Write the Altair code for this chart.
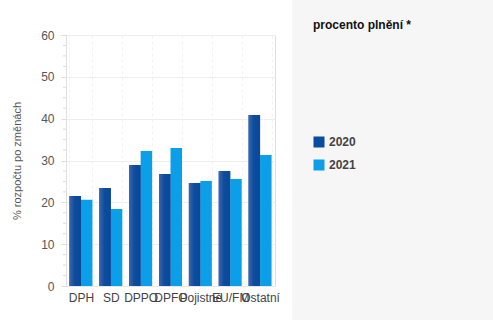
import altair as alt
import pandas as pd

FONT = "Liberation Sans"

categories = ["DPH", "SD", "DPPO", "DPFO", "Pojistné", "EU/FM", "Ostatní"]
years = ["2020", "2021"]
values_2020 = [21.5, 23.4, 28.9, 26.8, 24.6, 27.5, 40.9]
values_2021 = [20.6, 18.4, 32.3, 33.0, 25.1, 25.6, 31.3]
major_ticks = [0, 10, 20, 30, 40, 50, 60]
minor_ticks = [2.5, 5, 7.5, 12.5, 15, 17.5, 22.5, 25, 27.5, 32.5, 35, 37.5,
               42.5, 45, 47.5, 52.5, 55, 57.5]
panel_title = "procento plnění *"
y_title = "% rozpočtu po změnách"

rows = []
for c, a, b in zip(categories, values_2020, values_2021):
    rows.append({"kategorie": c, "rok": years[0], "hodnota": a})
    rows.append({"kategorie": c, "rok": years[1], "hodnota": b})
df = pd.DataFrame(rows)
ticks_df = pd.DataFrame({"hodnota": minor_ticks})

W, H = 209, 251

x_enc = alt.X(
    "kategorie:N", sort=categories,
    scale=alt.Scale(paddingInner=0.23, paddingOuter=0.115),
    axis=alt.Axis(title=None, labelAngle=0, labelFontSize=12, labelColor="#444444",
                  labelPadding=6, ticks=False, domainColor="#e6e6e6",
                  grid=True, gridColor="#f2f2f2", gridDash=[3, 3], tickBand="extent",
                  labelOverlap=False, labelFont=FONT, labelLimit=0),
)
xoff_enc = alt.XOffset("rok:N", sort=years, scale=alt.Scale(domain=years, paddingInner=0))
y_axis = alt.Axis(title=y_title, values=major_ticks, tickSize=5, tickColor="#dddddd",
                  domainColor="#e0e0e0", gridColor="#eeeeee", labelFontSize=12,
                  labelColor="#555555", labelPadding=7, labelFont=FONT,
                  titleFontSize=11, titleFontWeight="normal", titleColor="#555555",
                  titlePadding=18, titleFont=FONT)
y_enc = alt.Y("hodnota:Q", scale=alt.Scale(domain=[0, 60], nice=False), axis=y_axis)

panel = alt.Chart(alt.Data(values=[{}])).mark_rect(color="#f6f6f6").encode(
    x=alt.value(226), x2=alt.value(430), y=alt.value(-36), y2=alt.value(290)
)

title_text = alt.Chart(alt.Data(values=[{}])).mark_text(
    text=panel_title, align="left", baseline="alphabetic", fontSize=12,
    fontWeight="bold", color="#111111", font=FONT
).encode(x=alt.value(247), y=alt.value(-6))

minor = alt.Chart(ticks_df).mark_rule(color="#dddddd").encode(
    y=y_enc, x=alt.value(-3), x2=alt.value(0)
)

bars = alt.Chart(df).mark_bar().encode(
    x=x_enc, xOffset=xoff_enc, y=y_enc,
    color=alt.Color("rok:N", scale=alt.Scale(domain=years, range=["#0c4c9e", "#0a9fe8"]),
                    legend=alt.Legend(title=None, orient="none", legendX=247, legendY=101,
                                      symbolType="square", symbolSize=121,
                                      symbolStrokeWidth=0, labelFontSize=12,
                                      labelFontWeight="bold", labelColor="#444444",
                                      labelFont=FONT, rowPadding=11, padding=0,
                                      labelOffset=4)),
)

grad = alt.Gradient(
    gradient="linear", x1=0, x2=1, y1=0, y2=0,
    stops=[alt.GradientStop(color="#3d66aa", offset=0),
           alt.GradientStop(color="#0d4c9e", offset=0.45),
           alt.GradientStop(color="#0a4896", offset=1)],
)
bars2020 = alt.Chart(df).mark_bar(color=grad).encode(
    x=x_enc, xOffset=xoff_enc, y=y_enc,
).transform_filter(alt.datum.rok == years[0])

chart = alt.layer(panel, title_text, minor, bars, bars2020).properties(
    width=W, height=H,
    padding={"left": 66, "top": 35, "right": 218, "bottom": 34},
    autosize=alt.AutoSizeParams(type="none"),
    background="white",
).configure_view(stroke=None).configure(font=FONT)

chart.save("out.html", embed_options={"renderer": "svg", "actions": False})
